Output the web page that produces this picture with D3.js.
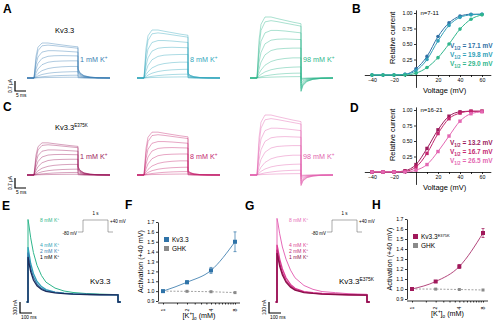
<!DOCTYPE html>
<html><head><meta charset="utf-8">
<script src="https://cdn.jsdelivr.net/npm/d3@7"></script>
<style>
body{margin:0;background:#fff}
svg{display:block;font-family:"Liberation Sans",Arial,sans-serif}
</style>
</head><body><div id="fig"></div>
<script>
// ---------- data ----------
// A / C : current families, normalised to the largest trace (time in ms)
const stepKnots = [0, 1, 2, 4, 7, 10, 14, 18, 22];
const stepShape = [
  [0, 0.003, 0.006, 0.01, 0.014, 0.017, 0.02, 0.022, 0.023],
  [0, 0.01, 0.02, 0.035, 0.05, 0.062, 0.072, 0.078, 0.08],
  [0, 0.03, 0.06, 0.1, 0.135, 0.155, 0.17, 0.178, 0.182],
  [0, 0.07, 0.13, 0.21, 0.27, 0.3, 0.32, 0.33, 0.33],
  [0, 0.14, 0.26, 0.38, 0.45, 0.475, 0.485, 0.49, 0.49],
  [0, 0.25, 0.42, 0.56, 0.62, 0.635, 0.64, 0.635, 0.63],
  [0, 0.38, 0.6, 0.74, 0.78, 0.78, 0.77, 0.755, 0.74],
  [0, 0.5, 0.78, 0.92, 0.94, 0.925, 0.9, 0.875, 0.85],
  [0, 0.62, 0.88, 1.0, 1.0, 0.975, 0.945, 0.915, 0.89]
];
const tailKnots = [0.01, 1, 3, 6, 10, 16];
const tailShape = [1, 0.55, 0.25, 0.1, 0.03, 0];
const famConc = ["1 mM K", "8 mM K", "98 mM K"];
const ampA = [2.45, 3.36, 4.27];   // µA
const ampC = [2.25, 3.0, 4.2];
const tailA = [0.3, 0.12, -0.25];
const tailC = [0.3, 0.12, -0.2];
const colA = ["#3a7db2", "#33a6bd", "#2fb68c"];
const colC = ["#9c1a5c", "#c4266f", "#e25fae"];

// B / D : conductance-voltage
const volts = [-40, -30, -20, -10, 0, 10, 20, 30, 40, 50, 60];
const gvB1 = [0, 0, 0, 0.01, 0.1, 0.3, 0.62, 0.84, 0.95, 0.98, 0.98];
const gvB8 = [0, 0, 0, 0.01, 0.07, 0.25, 0.55, 0.8, 0.93, 0.97, 0.98];
const gvB98 = [0, 0, 0, 0, 0.03, 0.12, 0.28, 0.5, 0.74, 0.9, 0.97];
const vhalfB = ["17.1", "19.8", "29.0"];
const gvD1 = [0, 0, 0, 0.02, 0.12, 0.38, 0.68, 0.9, 0.97, 0.98, 0.98];
const gvD8 = [0, 0, 0, 0.01, 0.08, 0.3, 0.62, 0.86, 0.95, 0.98, 0.98];
const gvD98 = [0, 0, 0, 0, 0.03, 0.12, 0.33, 0.58, 0.82, 0.94, 0.97];
const vhalfD = ["13.2", "16.7", "26.5"];
const gvTicks = [0.25, 0.5, 0.75, 1.0];

// E / G : currents at +40 mV (nA)
const rampKnots = [0, 10, 30, 60, 100, 150, 200, 300, 400, 500, 650, 800, 1000];
const concE = ["8 mM K", "4 mM K", "2 mM K", "1 mM K"];
const curE8 = [2250, 2100, 1750, 1350, 1000, 720, 540, 380, 300, 260, 230, 215, 200];
const curE4 = [1500, 1350, 1050, 780, 560, 420, 340, 270, 240, 220, 210, 200, 195];
const curE2 = [1350, 1200, 920, 680, 490, 370, 310, 260, 235, 220, 210, 200, 195];
const curE1 = [1230, 1080, 830, 600, 440, 340, 290, 250, 230, 215, 205, 198, 192];
const curG8 = [760, 720, 620, 500, 390, 290, 220, 150, 115, 95, 85, 75, 70];
const curG4 = [520, 480, 390, 300, 220, 160, 125, 95, 85, 78, 72, 68, 65];
const curG2 = [475, 440, 350, 265, 195, 145, 115, 90, 80, 74, 70, 66, 63];
const curG1 = [445, 410, 325, 245, 180, 135, 108, 86, 78, 72, 68, 64, 62];
const colE = ["#2fb68c", "#2fa2b8", "#3a7db2", "#1d2d5c"];
const colG = ["#e66ab8", "#db3f95", "#c0287a", "#8a1049"];

// F / H : activation at +40 mV vs [K+]o
const kConc = [1, 2, 4, 8];
const actF = [1.0, 1.09, 1.21, 1.5];
const errF = [0.005, 0.015, 0.03, 0.1];
const ghkF = [1.0, 0.998, 0.994, 0.985];
const actH = [1.0, 1.075, 1.225, 1.56];
const errH = [0.005, 0.01, 0.02, 0.045];
const ghkH = [1.0, 0.999, 0.995, 0.99];
const actTicks = [0.9, 1.0, 1.1, 1.2, 1.3, 1.4, 1.5, 1.6, 1.7];

// ---------- drawing ----------
const svg = d3.select("#fig").append("svg").attr("width", 499).attr("height", 323);
svg.append("rect").attr("width", 499).attr("height", 323).attr("fill", "#fff");

const letters = [["A", 3, 13], ["B", 352, 13], ["C", 3, 111], ["D", 350, 112],
  ["E", 2, 210], ["F", 125, 209], ["G", 245, 210], ["H", 372, 209]];
svg.selectAll("text.letter").data(letters).join("text").attr("class", "letter")
  .attr("x", d => d[1]).attr("y", d => d[2])
  .attr("font-size", 12).attr("font-weight", "bold").text(d => d[0]);

function kLabel(g, x, y, txt, col, size) {
  const t = g.append("text").attr("x", x).attr("y", y).attr("font-size", size).attr("fill", col);
  t.append("tspan").text(txt);
  t.append("tspan").attr("dy", -size * 0.4).attr("font-size", size * 0.65).text("+");
  return t;
}

function drawFamily(g, x0, base, amp, tail, color) {
  const tx = d3.scaleLinear().domain([0, 22]).range([x0, x0 + 44]);
  const ty = d3.scaleLinear().domain([0, 1]).range([base, base - amp / 0.07]);
  const line = d3.line().x(d => tx(d[0])).y(d => ty(d[1]));
  stepShape.forEach(row => {
    const end = row[row.length - 1];
    const pts = [[-3.5, 0], [0, 0]];
    stepKnots.forEach((t, i) => pts.push([t, row[i]]));
    tailKnots.forEach((t, i) => pts.push([22 + t, end * tail * tailShape[i]]));
    g.append("path").attr("d", line(pts)).attr("fill", "none")
      .attr("stroke", color).attr("stroke-width", 0.55).attr("stroke-opacity", 0.75);
  });
}

function scaleBar(g, x, y, h, w, vTxt, hTxt) {
  g.append("path").attr("d", `M${x},${y}V${y + h}H${x + w}`).attr("fill", "none")
    .attr("stroke", "#000").attr("stroke-width", 1.2);
  g.append("text").attr("transform", `translate(${x - 3},${y + h / 2}) rotate(-90)`)
    .attr("text-anchor", "middle").attr("font-size", 4.8).text(vTxt);
  g.append("text").attr("x", x + 1).attr("y", y + h + 6).attr("font-size", 4.8).text(hTxt);
}

function rowAC(top, amps, tails, cols, title, sup) {
  const g = svg.append("g");
  const starts = [34, 144, 257];
  starts.forEach((x0, i) => {
    drawFamily(g, x0, top + 78, amps[i], tails[i], cols[i]);
    kLabel(g, x0 + 46, top + 62, famConc[i], cols[i], 7.2);
  });
  const t = g.append("text").attr("x", 55).attr("y", top + 33).attr("font-size", 7.5);
  t.append("tspan").text(title);
  if (sup) t.append("tspan").attr("dy", -3).attr("font-size", 4.5).text(sup);
  scaleBar(g, 15, top + 81, 10, 11, "0.7 µA", "5 ms");
}
rowAC(0, ampA, tailA, colA, "Kv3.3", null);
rowAC(97, ampC, tailC, colC, "Kv3.3", "E375K");

function drawGV(top, series, cols, vh, nTxt, square) {
  const g = svg.append("g");
  const x = d3.scaleLinear().domain([-47, 68]).range([364.3, 490.8]);
  const y = d3.scaleLinear().domain([-0.2, 1.05]).range([top + 74.4, top - 3.1]);
  const xAx = d3.axisBottom(x).tickValues([-40, -30, -20, -10, 10, 20, 30, 40, 50, 60])
    .tickSize(2).tickSizeOuter(0).tickPadding(1.5)
    .tickFormat(d => d % 20 === 0 ? d3.format("d")(d) : "");
  const xa = g.append("g").attr("transform", `translate(0,${y(0)})`).call(xAx);
  const yAx = d3.axisLeft(y).tickValues(gvTicks).tickSize(2).tickSizeOuter(0)
    .tickPadding(1.5).tickFormat(d3.format(".2f"));
  const ya = g.append("g").attr("transform", `translate(${x(0)},0)`).call(yAx);
  [xa, ya].forEach(a => {
    a.attr("font-size", 5.2).attr("font-family", null);
    a.selectAll("path,line").attr("stroke", "#000").attr("stroke-width", 0.8);
  });
  g.append("text").attr("transform", `translate(${x(0) - 21},${y(0.6)}) rotate(-90)`)
    .attr("text-anchor", "middle").attr("font-size", 7.5).text("Relative current");
  g.append("text").attr("x", x(26)).attr("y", top + 80).attr("text-anchor", "middle")
    .attr("font-size", 7.5).text("Voltage (mV)");
  g.append("text").attr("x", x(4)).attr("y", y(1) + 2).attr("font-size", 6).text(nTxt);
  const line = d3.line().curve(d3.curveMonotoneX).x((d, i) => x(volts[i])).y(d => y(d));
  series.forEach((s, k) => {
    g.append("path").attr("d", line(s)).attr("fill", "none")
      .attr("stroke", cols[k]).attr("stroke-width", 1);
    const pts = g.selectAll(null).data(s);
    if (square) {
      pts.join("rect").attr("x", (d, i) => x(volts[i]) - 1.7).attr("y", d => y(d) - 1.7)
        .attr("width", 3.4).attr("height", 3.4).attr("fill", cols[k]);
    } else {
      pts.join("circle").attr("cx", (d, i) => x(volts[i])).attr("cy", d => y(d))
        .attr("r", 1.8).attr("fill", cols[k]);
    }
    const t = g.append("text").attr("x", 450).attr("y", top + 35 + k * 9)
      .attr("font-size", 6.5).attr("font-weight", "bold").attr("fill", cols[k]);
    t.append("tspan").text("V");
    t.append("tspan").attr("dy", 1.5).attr("font-size", 4.5).text("1/2");
    t.append("tspan").attr("dy", -1.5).text(" = " + vh[k] + " mV");
  });
}
drawGV(13, [gvB1, gvB8, gvB98], ["#2f6fa5", "#2fa0b8", "#2fb68c"], vhalfB, "n=7-11", false);
drawGV(110, [gvD1, gvD8, gvD98], ["#9c1a5c", "#c4266f", "#e467b2"], vhalfD, "n=16-21", true);

function drawRamp(x0, curves, cols, scaleNA, title, sup) {
  const g = svg.append("g");
  const tx = d3.scaleLinear().domain([0, 1000]).range([x0, x0 + 90]);
  const ty = d3.scaleLinear().domain([0, scaleNA]).range([302, 291]);
  const line = d3.line().x(d => tx(d[0])).y(d => ty(d[1]));
  curves.forEach((c, k) => {
    const pts = [[-15, 0], [0, 0]];
    rampKnots.forEach((t, i) => pts.push([t, c[i]]));
    pts.push([1000, 0], [1030, 0]);
    g.append("path").attr("d", line(pts)).attr("fill", "none")
      .attr("stroke", cols[k]).attr("stroke-width", k === 0 ? 1 : 1.3);
  });
  // labels
  const ly = [222, 247, 253, 259];
  curves.forEach((c, k) => kLabel(g, x0 + 12, ly[k], concE[k], k === 3 && cols === colE ? "#000" : cols[k], 5));
  // protocol inset
  const px = x0 + 55;
  g.append("path").attr("d", `M${px - 5},232H${px}V220H${px + 25}V232H${px + 30}`)
    .attr("fill", "none").attr("stroke", "#555").attr("stroke-width", 0.5);
  g.append("text").attr("x", px + 12.5).attr("y", 215).attr("text-anchor", "middle").attr("font-size", 4.5).text("1 s");
  g.append("text").attr("x", px - 6).attr("y", 235).attr("text-anchor", "end").attr("font-size", 4.5).text("-80 mV");
  g.append("text").attr("x", px + 27).attr("y", 223).attr("font-size", 4.5).text("+40 mV");
  const t = g.append("text").attr("x", x0 + 62).attr("y", 284).attr("font-size", 8);
  t.append("tspan").text(title);
  if (sup) t.append("tspan").attr("dy", -3.5).attr("font-size", 4.8).text(sup);
  scaleBar(g, x0 - 8, 302, 11, 12, scaleNA + " nA", "100 ms");
}
drawRamp(28, [curE8, curE4, curE2, curE1], colE, 300, "Kv3.3", null);
drawRamp(277, [curG8, curG4, curG2, curG1], colG, 100, "Kv3.3", "E375K");

function drawAct(x0, x1, top, bot, act, err, ghk, col, name, sup) {
  const g = svg.append("g");
  const x = d3.scaleLog().base(2).domain([1, 8]).range([x0, x1]);
  const y = d3.scaleLinear().domain([0.9, 1.7]).range([bot, top]);
  const axX = x0 - 5;
  const yAx = d3.axisLeft(y).tickValues(actTicks).tickSize(2).tickSizeOuter(0)
    .tickPadding(1.5).tickFormat(d3.format(".1f"));
  const ya = g.append("g").attr("transform", `translate(${axX},0)`).call(yAx);
  const minor = d3.range(1, 8.01, 0.5);
  const xAx = d3.axisBottom(x).tickValues(minor).tickSize(1.5).tickSizeOuter(0).tickFormat("");
  const xa = g.append("g").attr("transform", `translate(0,${bot + 2})`).call(xAx);
  xa.select(".domain").attr("d", `M${axX},0H${x1 + 5}`);
  [xa, ya].forEach(a => {
    a.attr("font-size", 5.2).attr("font-family", null);
    a.selectAll("path,line").attr("stroke", "#000").attr("stroke-width", 0.8);
  });
  g.selectAll(null).data(kConc).join("text")
    .attr("transform", d => `translate(${x(d) + 1.8},${bot + 9}) rotate(-90)`)
    .attr("text-anchor", "middle").attr("font-size", 5.2).text(d => d);
  // y label
  g.append("text").attr("transform", `translate(${axX - 15},${(top + bot) / 2}) rotate(-90)`)
    .attr("text-anchor", "middle").attr("font-size", 7.2).text("Activation (+40 mV)");
  // x label
  const xl = g.append("text").attr("x", (x0 + x1) / 2).attr("y", bot + 17).attr("text-anchor", "middle").attr("font-size", 7.2);
  xl.append("tspan").text("[K");
  xl.append("tspan").attr("dy", -2.8).attr("font-size", 4.6).text("+");
  xl.append("tspan").attr("dy", 2.8).text("]");
  xl.append("tspan").attr("dy", 1.6).attr("font-size", 4.6).text("o");
  xl.append("tspan").attr("dy", -1.6).text(" (mM)");
  // GHK
  const line = d3.line().x((d, i) => x(kConc[i])).y(d => y(d));
  g.append("path").attr("d", line(ghk)).attr("fill", "none").attr("stroke", "#8a8a8a")
    .attr("stroke-width", 0.8).attr("stroke-dasharray", "2,1.5");
  g.selectAll(null).data(ghk).join("rect").attr("x", (d, i) => x(kConc[i]) - 1.5)
    .attr("y", d => y(d) - 1.5).attr("width", 3).attr("height", 3).attr("fill", "#8a8a8a");
  // channel
  g.append("path").attr("d", line.curve(d3.curveMonotoneX)(act)).attr("fill", "none")
    .attr("stroke", col).attr("stroke-width", 0.8);
  g.selectAll(null).data(act).join("path")
    .attr("d", (d, i) => `M${x(kConc[i]) - 1.5},${y(d + err[i])}h3M${x(kConc[i])},${y(d + err[i])}V${y(d - err[i])}M${x(kConc[i]) - 1.5},${y(d - err[i])}h3`)
    .attr("stroke", col).attr("stroke-width", 0.7).attr("fill", "none");
  g.selectAll(null).data(act).join("rect").attr("x", (d, i) => x(kConc[i]) - 2)
    .attr("y", d => y(d) - 2).attr("width", 4).attr("height", 4).attr("fill", col);
  // legend
  g.append("rect").attr("x", x0 + 1).attr("y", top + 15).attr("width", 5).attr("height", 5).attr("fill", col);
  const lt = g.append("text").attr("x", x0 + 9).attr("y", top + 20).attr("font-size", 6.5);
  lt.append("tspan").text(name);
  if (sup) lt.append("tspan").attr("dy", -2.5).attr("font-size", 4).text(sup);
  g.append("rect").attr("x", x0 + 1).attr("y", top + 24).attr("width", 5).attr("height", 5).attr("fill", "#8a8a8a");
  g.append("text").attr("x", x0 + 9).attr("y", top + 29).attr("font-size", 6.5).text("GHK");
}
drawAct(163, 235, 222, 301, actF, errF, ghkF, "#2f73a8", "Kv3.3", null);
drawAct(412, 483, 219, 299, actH, errH, ghkH, "#a0185a", "Kv3.3", "E375K");
</script>
</body></html>
